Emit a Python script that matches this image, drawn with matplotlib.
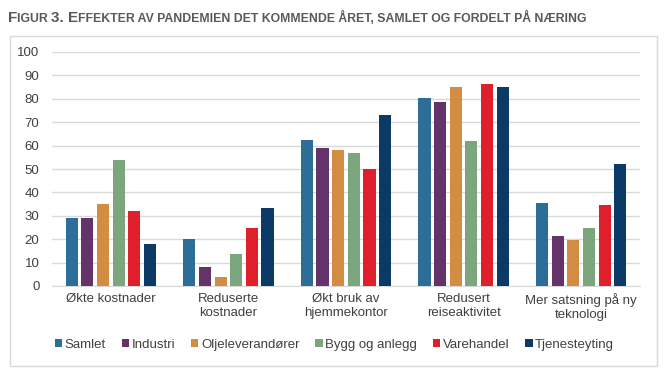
import matplotlib
matplotlib.use("Agg")
import matplotlib.pyplot as plt
import numpy as np
from matplotlib.patches import Rectangle

plt.rcParams['font.family'] = ['Liberation Sans', 'DejaVu Sans']

categories = ["Økte kostnader", "Reduserte\nkostnader", "Økt bruk av\nhjemmekontor",
              "Redusert\nreiseaktivitet", "Mer satsning på ny\nteknologi"]
series_names = ["Samlet", "Industri", "Oljeleverandører", "Bygg og anlegg", "Varehandel", "Tjenesteyting"]
samlet = [29, 20, 62.5, 80.5, 35.5]
industri = [29, 8, 59, 78.5, 21.5]
olje = [35, 4, 58, 85, 19.5]
bygg = [54, 13.5, 57, 62, 25]
varehandel = [32, 25, 50, 86.5, 34.5]
tjeneste = [18, 33.5, 73, 85, 52]
yticks = list(range(0, 101, 10))

colors = ["#2C6E97", "#64336A", "#D38D42", "#7BA67E", "#E01F2D", "#0C3A66"]
data = [samlet, industri, olje, bygg, varehandel, tjeneste]

W, H = 669, 380
fig = plt.figure(figsize=(W / 100, H / 100), dpi=100)

# outer frame
fig.patches.append(Rectangle((10 / W, 1 - 366 / H), 647 / W, 330 / H, transform=fig.transFigure,
                             fill=False, edgecolor="#D9D9D9", linewidth=1.0))

ax = fig.add_axes([52 / W, 1 - 286 / H, 588 / W, 234 / H])
x = np.arange(len(categories))
bw = 0.103
pitch = 0.133
for i, (vals, c, name) in enumerate(zip(data, colors, series_names)):
    ax.bar(x + (i - 2.5) * pitch, vals, width=bw, color=c, label=name, zorder=3)

ax.set_xlim(-0.5, len(categories) - 0.5)
ax.set_ylim(0, 100)
ax.set_yticks(yticks)
ax.set_yticklabels([str(t) for t in yticks], fontsize=9.5, color="#404040")
ax.set_xticks(x)
ax.set_xticklabels(categories, fontsize=9.5, color="#404040", linespacing=1.25)
ax.tick_params(axis='both', length=0)
ax.tick_params(axis='y', pad=9)
ax.tick_params(axis='x', pad=5)
ax.grid(axis='y', color="#D9D9D9", linewidth=1.0, zorder=0)
for s in ['top', 'right', 'left']:
    ax.spines[s].set_visible(False)
ax.spines['bottom'].set_color("#D9D9D9")

leg = fig.legend(loc='center', bbox_to_anchor=(0.5, 1 - 345 / H), ncol=6, frameon=False,
                 fontsize=9.5, handlelength=0.55, handleheight=0.55, handletextpad=0.2,
                 columnspacing=1.2, labelcolor="#404040")

# small-caps title
pieces = [("F", 11), ("IGUR ", 8.8), ("3. ", 11), ("E", 11),
          ("FFEKTER AV PANDEMIEN DET KOMMENDE ÅRET, SAMLET OG FORDELT PÅ NÆRING", 8.8)]
fig.canvas.draw()
r = fig.canvas.get_renderer()
xpos = 8
ybase = H - 22
for txt, fs in pieces:
    t = fig.text(xpos / W, ybase / H, txt, fontsize=fs, fontweight='bold', color="#595959",
                 va='baseline', ha='left')
    bb = t.get_window_extent(renderer=r)
    xpos += bb.width

fig.savefig("out.png", dpi=100)
